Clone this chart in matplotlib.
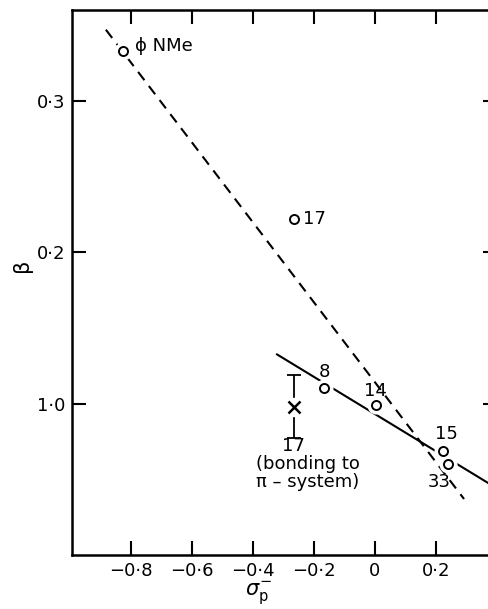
import numpy as np
import matplotlib.pyplot as plt

plt.rcParams['font.family'] = ['DejaVu Sans']
plt.rcParams['mathtext.fontset'] = 'dejavusans'

# sigma_p^- and beta for the open circles
pt_x = [-0.826, -0.266, -0.167, 0.003, 0.223, 0.239]
pt_y = [0.333, 0.222, 0.110, 0.099, 0.069, 0.060]
pt_lab = ['ϕ NMe', '17', '8', '14', '15', '33']

# compound 17, bonding to pi-system
x17 = -0.266
y17 = 0.098
err17 = 0.021

# line end points
dash_x = [-0.882, 0.292]
dash_y = [0.347, 0.037]
solid_x = [-0.321, 0.40]
solid_y = [0.1325, 0.044]

xticks = [-0.8, -0.6, -0.4, -0.2, 0.0, 0.2]
xticklabels = ['−0·8', '−0·6', '−0·4', '−0·2', '0', '0·2']
yticks = [0.1, 0.2, 0.3]
yticklabels = ['1·0', '0·2', '0·3']

fig = plt.figure(figsize=(4.89, 6.09), dpi=100)
ax = fig.add_axes([72 / 489, 54 / 609, 425 / 489, 545 / 609])
ax.set_xlim(-0.993, 0.4)
ax.set_ylim(0.0, 0.36)

ax.plot(dash_x, dash_y, color='black', lw=1.5, ls=(0, (5, 3.5)), zorder=1)
ax.plot(solid_x, solid_y, color='black', lw=1.5, zorder=1)

# white halo so the lines break around the circles
ax.plot(pt_x, pt_y, ls='none', marker='o', ms=12, mfc='white', mec='white', zorder=2)
ax.plot(pt_x, pt_y, ls='none', marker='o', ms=6.5, mfc='white', mec='black', mew=1.4, zorder=3)

ax.errorbar([x17], [y17], yerr=[err17], fmt='none', ecolor='black', elinewidth=1.3,
            capsize=5, capthick=1.3, zorder=1)
ax.plot([x17], [y17], ls='none', marker='o', ms=13, mfc='white', mec='white', zorder=2)
ax.plot([x17], [y17], ls='none', marker='x', ms=8, mec='black', mew=1.8, zorder=3)

fs = 13
ax.text(pt_x[0] + 0.04, pt_y[0] + 0.003, pt_lab[0], fontsize=fs, va='center', ha='left')
ax.text(pt_x[1] + 0.03, pt_y[1], pt_lab[1], fontsize=fs, va='center', ha='left')
ax.text(pt_x[2] + 0.002, pt_y[2] + 0.011, pt_lab[2], fontsize=fs, va='center', ha='center')
ax.text(pt_x[3] + 0.0, pt_y[3] + 0.009, pt_lab[3], fontsize=fs, va='center', ha='center')
ax.text(pt_x[4] + 0.01, pt_y[4] + 0.011, pt_lab[4], fontsize=fs, va='center', ha='center')
ax.text(pt_x[5] - 0.03, pt_y[5] - 0.012, pt_lab[5], fontsize=fs, va='center', ha='center')
ax.text(x17, y17 - 0.026, '17', fontsize=fs, va='center', ha='center')
ax.text(x17 - 0.125, y17 - 0.032, '(bonding to\nπ – system)', fontsize=fs,
        va='top', ha='left', linespacing=1.0)

ax.set_xticks(xticks)
ax.set_xticklabels(xticklabels)
ax.set_yticks(yticks)
ax.set_yticklabels(yticklabels)
ax.tick_params(direction='in', length=10, width=1.5, labelsize=fs, pad=5,
               top=True, right=True)
for s in ax.spines.values():
    s.set_linewidth(1.8)

ax.set_ylabel('β', fontsize=15)
ax.yaxis.set_label_coords(-0.095, 0.532)
ax.set_xlabel(r'$\sigma^{-}_{\rm p}$', fontsize=15)
ax.xaxis.set_label_coords(0.438, -0.045)

fig.savefig('out.png', dpi=100)
